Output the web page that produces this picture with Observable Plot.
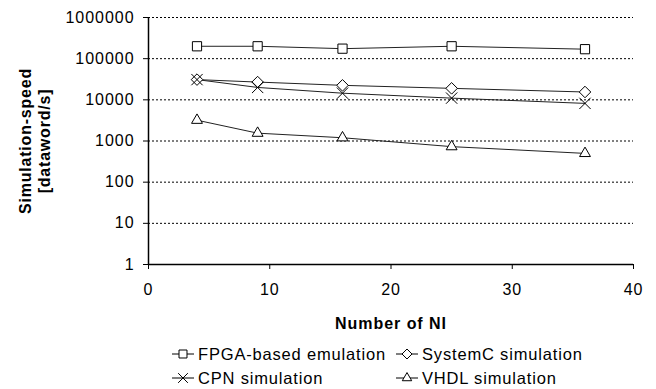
<!DOCTYPE html>
<html>
<head>
<meta charset="utf-8">
<script src="https://cdn.jsdelivr.net/npm/d3@7"></script>
<script src="https://cdn.jsdelivr.net/npm/@observablehq/plot@0.6"></script>
<style>
  html, body { margin: 0; padding: 0; background: #fff; }
  #wrap { position: relative; width: 656px; height: 389px; font-family: "Liberation Sans", Arial, sans-serif; }
  #chart svg text { letter-spacing: 0.06em; }
  #legend { position: absolute; left: 0; top: 0; width: 656px; height: 389px; pointer-events: none; }
  .item { position: absolute; display: flex; align-items: center; font-size: 16.5px; letter-spacing: 0.05em; color: #000; white-space: nowrap; }
  .item svg { margin-right: 4px; }
  .ytitle { position: absolute; left: 35px; top: 141px; transform: translate(-50%, -50%) rotate(-90deg); font-weight: bold; font-size: 16px; letter-spacing: 0.05em; text-align: center; line-height: 19px; white-space: nowrap; color: #000; }
</style>
</head>
<body>
<div id="wrap"><div id="chart"></div><div id="legend"></div></div>
<script>
const ni = [4, 9, 16, 25, 36];
const fpga = [200000, 200000, 175000, 200000, 170000];
const systemc = [31000, 27000, 22500, 19000, 15500];
const cpn = [31000, 20000, 14500, 11000, 8200];
const vhdl = [3200, 1550, 1200, 730, 500];
const seriesNames = ["FPGA-based emulation", "SystemC simulation", "CPN simulation", "VHDL simulation"];
const seriesValues = [fpga, systemc, cpn, vhdl];
const seriesSymbols = ["square", "diamond2", "times", "triangle2"];
const xTicks = [0, 10, 20, 30, 40];
const yTicks = [1, 10, 100, 1000, 10000, 100000, 1000000];
const xTitle = "Number of NI";
const yTitleLines = ["Simulation-speed", "[dataword/s]"];

const rows = [];
seriesNames.forEach((s, i) => ni.forEach((n, j) => rows.push({series: s, x: n, y: seriesValues[i][j], sym: seriesSymbols[i]})));

const font = '"Liberation Sans", Arial, sans-serif';
const chart = Plot.plot({
  width: 656,
  height: 335,
  marginLeft: 148,
  marginRight: 23,
  marginTop: 17,
  marginBottom: 71,
  style: {fontFamily: font, fontSize: "16px", color: "#000", background: "#fff"},
  x: {domain: [0, 40]},
  y: {type: "log", domain: [1, 1000000]},
  symbol: {type: "identity"},
  marks: [
    Plot.gridY(yTicks.slice(1), {stroke: "#000", strokeOpacity: 1, strokeDasharray: "2,2", strokeWidth: 1}),
    Plot.axisX(xTicks, {tickSize: 5, tickPadding: 14, label: null, stroke: "#000", fontSize: 16}),
    Plot.axisY(yTicks, {tickSize: 5, tickPadding: 9, label: null, tickFormat: d => String(d), stroke: "#000", fontSize: 16}),
    Plot.ruleX([0], {stroke: "#000", strokeWidth: 1.5}),
    Plot.ruleY([1], {stroke: "#000", strokeWidth: 1.5}),
    Plot.line(rows, {x: "x", y: "y", z: "series", stroke: "#222", strokeWidth: 1}),
    Plot.dot(rows, {x: "x", y: "y", symbol: "sym", r: 5.2, fill: d => d.sym === "times" ? "none" : "#fff", stroke: "#000", strokeWidth: 1}),
    Plot.text([xTitle], {frameAnchor: "bottom", dy: 64, fontWeight: "bold", fontSize: 16})
  ]
});
document.getElementById("chart").appendChild(chart);

// Y title
const yt = document.createElement("div");
yt.className = "ytitle";
yt.innerHTML = yTitleLines.join("<br>");
document.getElementById("wrap").appendChild(yt);

// Legend
const legendPos = [[172, 354], [396, 354], [172, 378], [396, 378]];
const symMap = {square: d3.symbolSquare, diamond2: d3.symbolDiamond2, times: d3.symbolTimes, triangle2: d3.symbolTriangle2};
const legend = document.getElementById("legend");
seriesNames.forEach((name, i) => {
  const div = document.createElement("div");
  div.className = "item";
  div.style.left = legendPos[i][0] + "px";
  div.style.top = (legendPos[i][1] - 10) + "px";
  div.style.height = "20px";
  const sym = seriesSymbols[i];
  const path = d3.symbol(symMap[sym], 4.5 * 4.5 * Math.PI)();
  div.innerHTML = `<svg width="22" height="20" viewBox="-11 -10 22 20"><line x1="-11" x2="11" y1="0" y2="0" stroke="#000"/><path d="${path}" fill="${sym === "times" ? "none" : "#fff"}" stroke="#000"/></svg><span>${name}</span>`;
  legend.appendChild(div);
});
</script>
</body>
</html>
